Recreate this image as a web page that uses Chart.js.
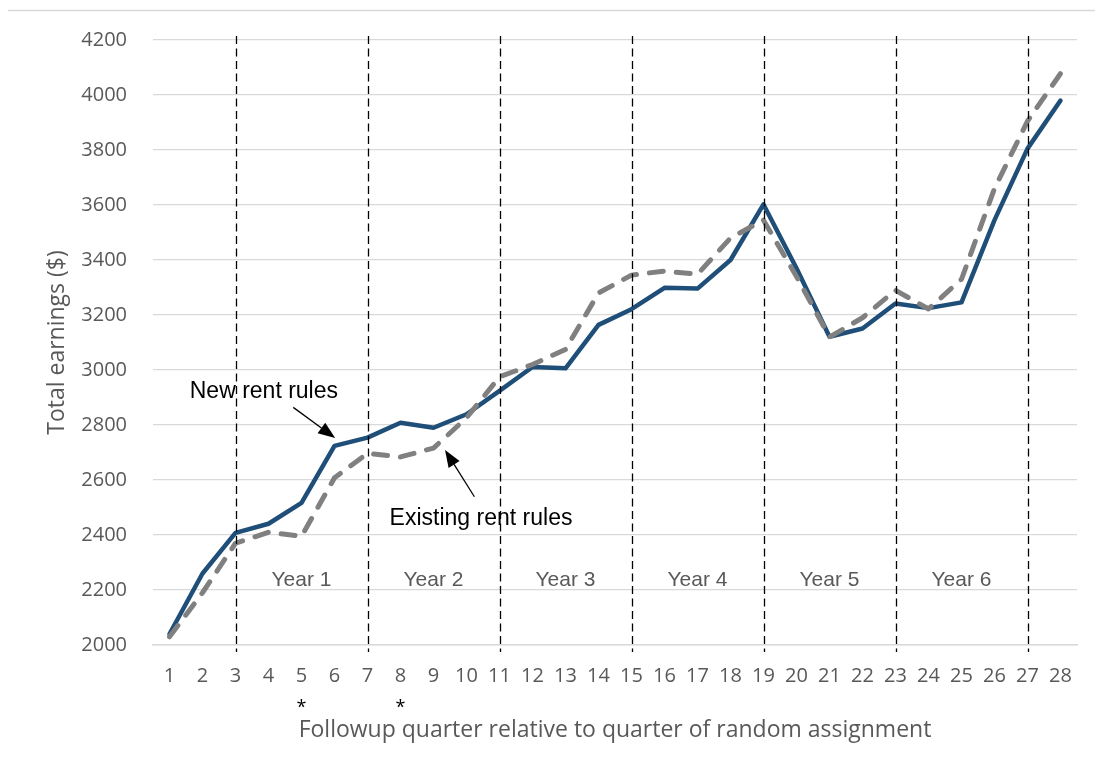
<!DOCTYPE html>
<html><head><meta charset="utf-8">
<script src="https://cdn.jsdelivr.net/npm/chart.js@4.4.1/dist/chart.umd.min.js"></script>
<style>html,body{margin:0;padding:0;background:#fff;}canvas{display:block;}</style>
</head><body>
<canvas id="c" width="1095" height="761"></canvas>
<script>
// ---- data ----
const quarters = ['1','2','3','4','5','6','7','8','9','10','11','12','13','14','15','16','17','18','19','20','21','22','23','24','25','26','27','28'];
const newRentRules = [2040, 2260, 2408, 2441, 2517, 2724, 2754, 2808, 2790, 2839, 2924, 3011, 3006, 3164, 3221, 3299, 3296, 3400, 3602, 3370, 3121, 3151, 3242, 3225, 3246, 3545, 3805, 3980];
const existingRentRules = [2030, 2190, 2370, 2410, 2395, 2608, 2697, 2684, 2716, 2826, 2975, 3020, 3075, 3280, 3345, 3360, 3348, 3480, 3545, 3340, 3120, 3190, 3290, 3222, 3330, 3660, 3905, 4078];
const yMin = 2000, yMax = 4200, yStep = 200;
const yearBoundaries = [3, 7, 11, 15, 19, 23, 27];          // quarter numbers
const yearLabels = ['Year 1', 'Year 2', 'Year 3', 'Year 4', 'Year 5', 'Year 6'];
const yearLabelQuarters = [5, 9, 13, 17, 21, 25];
const yearLabelValue = 2215;
const starredQuarters = [5, 8];
const annotationTexts = ['New rent rules', 'Existing rent rules'];
const annotationTextAt = [[3.86, 2898], [10.44, 2436]];     // [quarter, value] (baseline)
const arrowFrom = [[4.75, 2864], [10.24, 2539]];
const arrowTo = [[6.02, 2753], [9.35, 2709]];

const TXT = '#595959';
const SANS = "'Open Sans', 'DejaVu Sans', sans-serif";
const ARIAL = "'Liberation Sans', Arial, sans-serif";

const overlay = {
  id: 'overlay',
  beforeDraw(chart) {
    const ctx = chart.ctx;
    ctx.save();
    ctx.fillStyle = '#fff';
    ctx.fillRect(0, 0, chart.width, chart.height);
    ctx.strokeStyle = '#d9d9d9';
    ctx.lineWidth = 1.5;
    ctx.beginPath();
    ctx.moveTo(8, 10.5);
    ctx.lineTo(chart.width, 10.5);
    ctx.stroke();
    ctx.restore();
  },
  afterDatasetsDraw(chart) {
    const ctx = chart.ctx;
    const xs = chart.scales.x, ys = chart.scales.y;
    const px = q => xs.getPixelForValue(q - 1);
    const py = v => ys.getPixelForValue(v);
    const area = chart.chartArea;
    ctx.save();
    // vertical year boundaries
    ctx.strokeStyle = '#000';
    ctx.lineWidth = 1.3;
    ctx.setLineDash([8, 4.5]);
    yearBoundaries.forEach(q => {
      const x = Math.round(px(q)) + 0.5;
      ctx.beginPath();
      ctx.moveTo(x, area.top - 4);
      ctx.lineTo(x, area.bottom + 7);
      ctx.stroke();
    });
    ctx.setLineDash([]);
    // year labels
    ctx.fillStyle = TXT;
    ctx.font = "21px " + ARIAL;
    ctx.textAlign = 'center';
    ctx.textBaseline = 'alphabetic';
    yearLabels.forEach((t, i) => ctx.fillText(t, px(yearLabelQuarters[i]), py(yearLabelValue)));
    // annotations
    ctx.fillStyle = '#000';
    ctx.font = "23px " + ARIAL;
    annotationTexts.forEach((t, i) => ctx.fillText(t, px(annotationTextAt[i][0]), py(annotationTextAt[i][1])));
    ctx.strokeStyle = '#000';
    ctx.lineWidth = 1.3;
    arrowFrom.forEach((f, i) => {
      const x0 = px(f[0]), y0 = py(f[1]);
      const x1 = px(arrowTo[i][0]), y1 = py(arrowTo[i][1]);
      const ang = Math.atan2(y1 - y0, x1 - x0);
      const L = 17, W = 6.5;
      const bx = x1 - L * Math.cos(ang), by = y1 - L * Math.sin(ang);
      ctx.beginPath();
      ctx.moveTo(x0, y0);
      ctx.lineTo(bx, by);
      ctx.stroke();
      ctx.beginPath();
      ctx.moveTo(x1, y1);
      ctx.lineTo(bx + W * Math.sin(ang), by - W * Math.cos(ang));
      ctx.lineTo(bx - W * Math.sin(ang), by + W * Math.cos(ang));
      ctx.closePath();
      ctx.fill();
    });
    // asterisks under quarters
    ctx.font = "18px " + SANS;
    ctx.fillStyle = '#000';
    starredQuarters.forEach(q => ctx.fillText('*', px(q), 713));
    ctx.restore();
  }
};

new Chart(document.getElementById('c'), {
  type: 'line',
  data: {
    labels: quarters,
    datasets: [
      {
        label: 'New rent rules',
        data: newRentRules,
        borderColor: '#1F4E79',
        borderWidth: 4.5,
        pointRadius: 0,
        tension: 0,
        borderJoinStyle: 'round',
        borderCapStyle: 'round',
        order: 1
      },
      {
        label: 'Existing rent rules',
        data: existingRentRules,
        borderColor: '#808080',
        borderWidth: 5,
        borderDash: [14, 13],
        borderCapStyle: 'round',
        borderJoinStyle: 'round',
        pointRadius: 0,
        tension: 0,
        order: 0
      }
    ]
  },
  options: {
    responsive: false,
    devicePixelRatio: 1,
    animation: false,
    layout: { padding: { top: 40, right: 18, bottom: 0, left: 0 } },
    plugins: { legend: { display: false }, tooltip: { enabled: false } },
    scales: {
      x: {
        offset: true,
        grid: { display: false, drawTicks: false },
        border: { display: true, color: '#d9d9d9', width: 1.5 },
        ticks: { color: TXT, font: { family: SANS, size: 20 }, padding: 19, maxRotation: 0, autoSkip: false },
        title: { display: true, text: 'Followup quarter relative to quarter of random assignment', color: TXT,
                 font: { family: SANS, size: 23 }, padding: { top: 0, bottom: 17 } },
        afterFit(s) { s.height = 116; }
      },
      y: {
        min: yMin, max: yMax,
        grid: { color: '#d9d9d9', lineWidth: 1.3, drawTicks: false },
        border: { display: false },
        ticks: { stepSize: yStep, color: TXT, font: { family: SANS, size: 20 }, padding: 26, callback: v => String(v) },
        title: { display: true, text: 'Total earnings ($)', color: TXT,
                 font: { family: SANS, size: 23 }, padding: { top: 44, bottom: 0 } },
        afterFit(s) { s.width = 153; }
      }
    }
  },
  plugins: [overlay]
});
</script>
</body></html>
